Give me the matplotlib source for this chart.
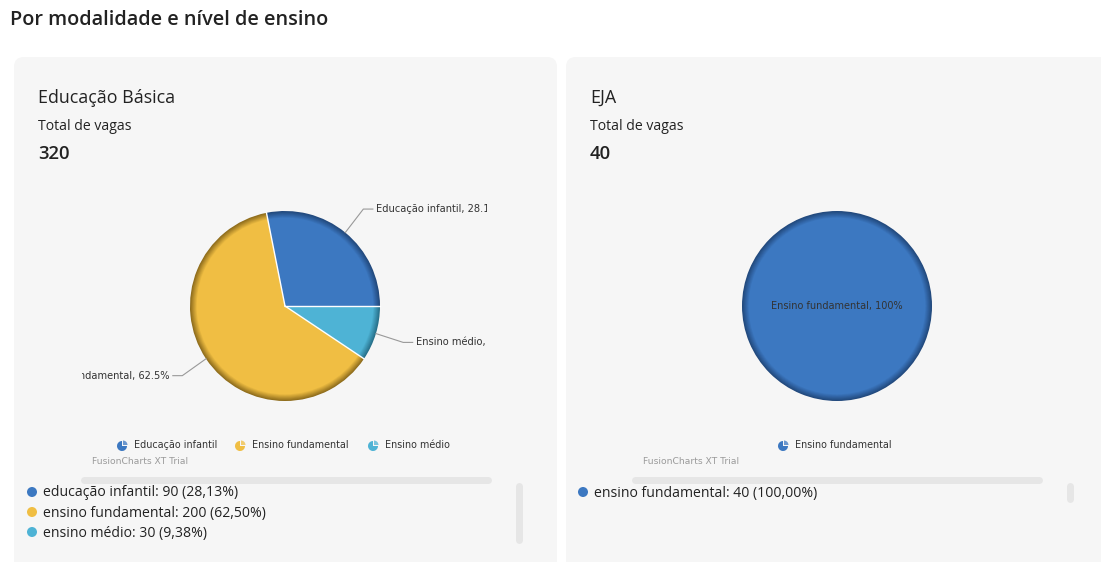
import matplotlib
matplotlib.use("Agg")
import matplotlib.pyplot as plt
from matplotlib.patches import FancyBboxPatch, Wedge, Circle
import matplotlib.colors as mcolors
import numpy as np
from decimal import Decimal, ROUND_HALF_UP

# dados
titulo = 'Por modalidade e nível de ensino'
cat_basica = ['Educação infantil', 'Ensino fundamental', 'Ensino médio']
vagas_basica = [90, 200, 30]
cat_eja = ['Ensino fundamental']
vagas_eja = [40]

cores = ['#3c78c1', '#f0be43', '#4eb3d5']
cores_escuras = ['#22497d', '#8f6d1c', '#27708a']

W, H = 1101, 562
fig = plt.figure(figsize=(W / 100, H / 100), dpi=100)
fig.patch.set_facecolor('white')
bg = fig.add_axes([0, 0, 1, 1])
bg.set_xlim(0, W)
bg.set_ylim(H, 0)
bg.axis('off')

OPEN = 'Open Sans'
VERD = 'DejaVu Sans'

bg.text(10, 20, titulo, fontsize=14.3, fontweight='semibold', family=OPEN,
        color='#222222', va='center', ha='left')

# cartões
for x0, x1 in [(14, 557), (566, 1130)]:
    bg.add_patch(FancyBboxPatch((x0, 57), x1 - x0, 540,
                                boxstyle='round,pad=0,rounding_size=10',
                                fc='#f6f6f6', ec='none'))


def fmt_pct(p):
    s = '%.1f' % p
    return s.rstrip('0').rstrip('.') + '%'


def arred(p, casas=2):
    q = Decimal(str(p)).quantize(Decimal(1).scaleb(-casas), rounding=ROUND_HALF_UP)
    return str(q).replace('.', ',')


def painel(x0, nome, cats, vals, cx, clip_l, clip_r):
    total = sum(vals)
    bg.text(x0 + 24, 98, nome, fontsize=12.9, family=OPEN, color='#222222', va='center')
    bg.text(x0 + 24, 126, 'Total de vagas', fontsize=10.1, family=OPEN, color='#222222', va='center')
    bg.text(x0 + 24, 154, str(total), fontsize=13.3, fontweight='semibold', family=OPEN,
            color='#222222', va='center')

    # pizza
    R = 95.0
    cy = 306
    top, bot = 180, 430
    ax = fig.add_axes([clip_l / W, 1 - bot / H, (clip_r - clip_l) / W, (bot - top) / H])

    n = 9
    wedges = None
    for i in range(n):
        t = i / (n - 1)
        rad = 1.0 - 0.07 * t
        cs = [mcolors.to_hex(np.array(mcolors.to_rgb(d)) * (1 - t) + np.array(mcolors.to_rgb(c)) * t)
              for c, d in zip(cores, cores_escuras)]
        wedges, _ = ax.pie(vals, colors=cs[:len(vals)], radius=rad, startangle=0,
                           counterclock=True, wedgeprops=dict(edgecolor='none'),
                           frame=True)
    ax.set_xlim(-(cx - clip_l) / R, (clip_r - cx) / R)
    ax.set_ylim(-(bot - cy) / R, (cy - top) / R)
    ax.set_aspect('auto')
    ax.axis('off')
    ax.patch.set_alpha(0)

    if len(vals) == 1:
        ax.text(0, 0, '%s, %s' % (cats[0], fmt_pct(100)), fontsize=7, family=VERD,
                color='#333333', ha='center', va='center')
    else:
        for w, c, v in zip(wedges, cats, vals):
            a = np.deg2rad(w.theta1)
            ax.plot([0, np.cos(a)], [0, np.sin(a)], color='white', lw=1)
            mid = np.deg2rad((w.theta1 + w.theta2) / 2)
            ex, ey = np.cos(mid), np.sin(mid)
            kx, ky = 1.3 * ex, 1.32 * ey
            sgn = 1 if ex >= 0 else -1
            hx = kx + sgn * 0.1
            ax.plot([ex, kx, hx], [ey, ky, ky], color='#999999', lw=0.8)
            ax.text(hx + sgn * 0.03, ky, '%s, %s' % (c, fmt_pct(100 * v / total)),
                    fontsize=7.1, family=VERD, color='#333333',
                    ha='left' if sgn > 0 else 'right', va='center', clip_on=True)
    return total


def legenda(xs, cats, idx):
    for x, c, i in zip(xs, cats, idx):
        bg.add_patch(Wedge((x, 446), 5, 0, 270, fc=cores[i], ec='none'))
        bg.add_patch(Wedge((x + 1, 445), 4.5, 270, 360, fc=cores[i], ec='none', alpha=0.75))
        bg.text(x + 12, 445, c, fontsize=6.9, family=VERD, color='#333333', va='center')


def lista(x0, cats, vals, idx, sb_x, sb_h):
    total = sum(vals)
    for k, (c, v, i) in enumerate(zip(cats, vals, idx)):
        y = 492 + 20 * k
        bg.add_patch(Circle((x0 + 18, y), 5, fc=cores[i], ec='none'))
        txt = '%s: %d (%s%%)' % (c.lower(), v, arred(100 * v / total))
        bg.text(x0 + 29, y + 1, txt, fontsize=10.1, family=OPEN, color='#222222', va='center')
    bg.plot([x0 + 70, x0 + 474], [480, 480], color='#e6e6e6', lw=5, solid_capstyle='round')
    bg.plot([sb_x, sb_x], [486, 486 + sb_h], color='#e6e6e6', lw=5, solid_capstyle='round')


painel(14, 'Educação Básica', cat_basica, vagas_basica, 285, 82, 487)
legenda([122, 240, 373], cat_basica, [0, 1, 2])
bg.text(92, 462, 'FusionCharts XT Trial', fontsize=6.6, family=VERD, color='#9a9a9a', va='center')
lista(14, cat_basica, vagas_basica, [0, 1, 2], 519, 54)

painel(566, 'EJA', cat_eja, vagas_eja, 837, 633, 1041)
legenda([783], cat_eja, [0])
bg.text(643, 462, 'FusionCharts XT Trial', fontsize=6.6, family=VERD, color='#9a9a9a', va='center')
lista(565, cat_eja, vagas_eja, [0], 1070, 13)

fig.savefig('out.png', dpi=100)
